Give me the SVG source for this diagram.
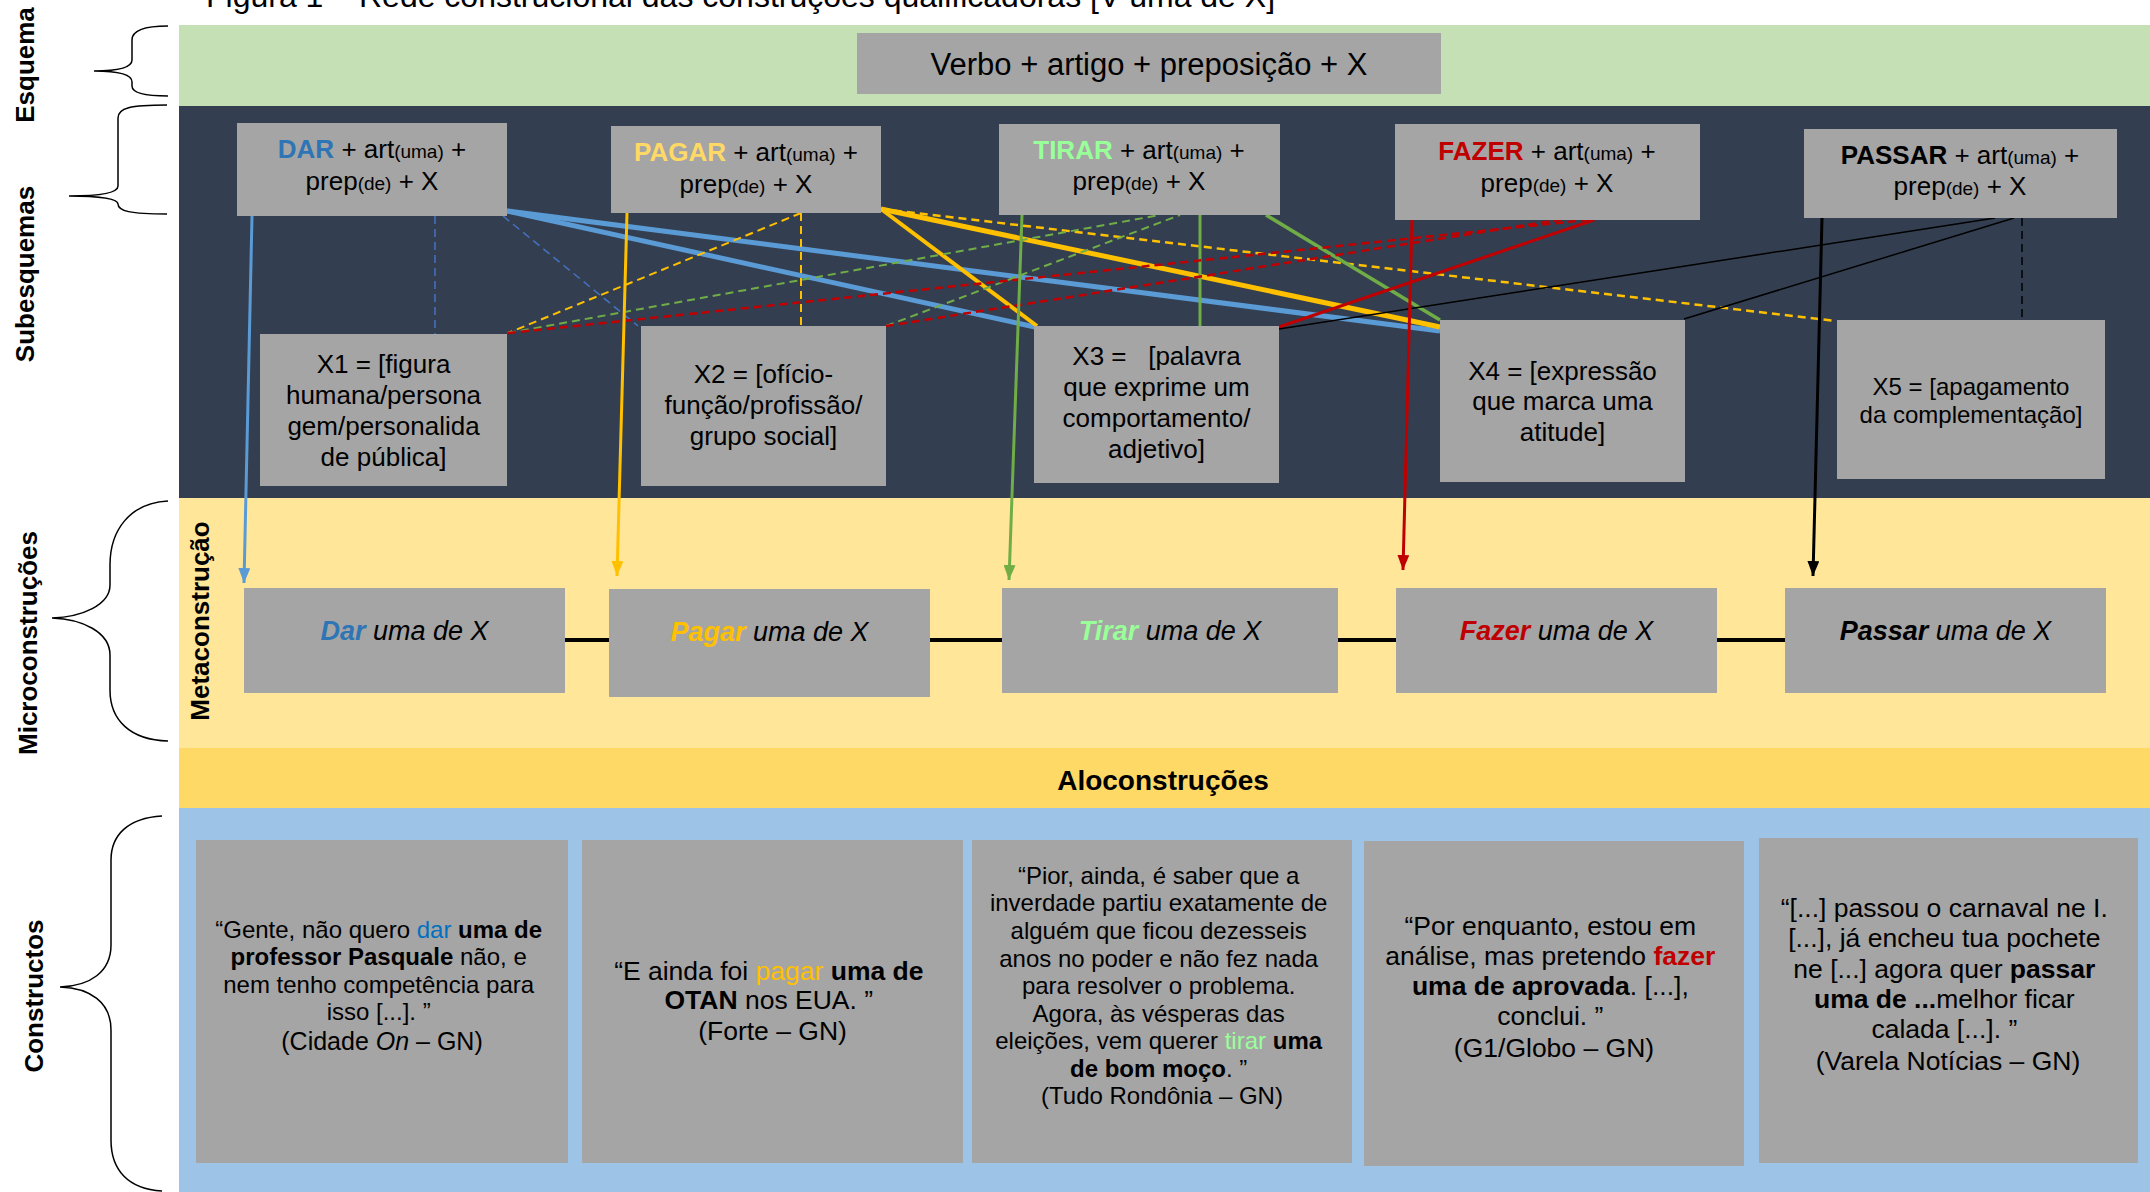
<svg xmlns="http://www.w3.org/2000/svg" width="2150" height="1192" viewBox="0 0 2150 1192">
<defs>
<style>
text { font-family: "Liberation Sans", Arial, sans-serif; fill: #000; }
.box { fill: #A5A5A5; }
.lbl { font-size: 26px; font-weight: bold; }
.sub { font-size: 26px; }
.sm { font-size: 19px; }
.xt { font-size: 26px; }
.mc { font-size: 27px; font-style: italic; }
.ct { font-size: 24px; }
.ct2 { font-size: 26.5px; }
.b { font-weight: bold; }
.brace { fill: none; stroke: #000; stroke-width: 1.5; }
.c { fill: none; }
.dash { stroke-dasharray: 8 5; }
</style>
<marker id="aBlue" markerUnits="userSpaceOnUse" markerWidth="15" markerHeight="12" refX="15" refY="6" orient="auto"><path d="M0,0 L15,6 L0,12 z" fill="#5B9BD5"/></marker>
<marker id="aYel" markerUnits="userSpaceOnUse" markerWidth="15" markerHeight="12" refX="15" refY="6" orient="auto"><path d="M0,0 L15,6 L0,12 z" fill="#FFC000"/></marker>
<marker id="aGrn" markerUnits="userSpaceOnUse" markerWidth="15" markerHeight="12" refX="15" refY="6" orient="auto"><path d="M0,0 L15,6 L0,12 z" fill="#70AD47"/></marker>
<marker id="aRed" markerUnits="userSpaceOnUse" markerWidth="15" markerHeight="12" refX="15" refY="6" orient="auto"><path d="M0,0 L15,6 L0,12 z" fill="#C00000"/></marker>
<marker id="aBlk" markerUnits="userSpaceOnUse" markerWidth="15" markerHeight="12" refX="15" refY="6" orient="auto"><path d="M0,0 L15,6 L0,12 z" fill="#000"/></marker>
</defs>

<rect x="0" y="0" width="2150" height="1192" fill="#fff"/>

<!-- title (cut off at top, as in the reference) -->
<text x="206" y="7" font-size="32">Figura 1 – Rede construcional das construções qualificadoras [V uma de X]</text>

<!-- bands -->
<g id="bands">
<rect x="179" y="25" width="1971" height="81" fill="#C5E0B4"/>
<rect x="179" y="106" width="1971" height="392" fill="#333F50"/>
<rect x="179" y="498" width="1971" height="250" fill="#FFE699"/>
<rect x="179" y="748" width="1971" height="60" fill="#FFD966"/>
<rect x="179" y="808" width="1971" height="384" fill="#9DC3E6"/>
</g>

<!-- left labels and braces -->
<g id="labels">
<text class="lbl" transform="translate(34,65) rotate(-90)" text-anchor="middle">Esquema</text>
<text class="lbl" transform="translate(34,274) rotate(-90)" text-anchor="middle">Subesquemas</text>
<text class="lbl" transform="translate(37,643) rotate(-90)" text-anchor="middle">Microconstruções</text>
<text class="lbl" transform="translate(43,996) rotate(-90)" text-anchor="middle">Constructos</text>
<text class="lbl" transform="translate(209,621) rotate(-90)" text-anchor="middle">Metaconstrução</text>
<path class="brace" d="M168,26 C145,26 132,30 132,40 L132,60 C132,68 115,71 94,71 C115,71 132,74 132,82 L132,86 C132,93 145,96 168,96"/>
<path class="brace" d="M167,105 C130,105 118,108 118,118 L118,186 C118,193 100,196 69,196 C100,196 118,199 118,204 C118,211 130,214 167,214"/>
<path class="brace" d="M168,501 C130,503 110,530 110,565 L110,585 C110,605 82,617 52,618 C82,619 110,632 110,655 L110,690 C110,720 130,740 168,741"/>
<path class="brace" d="M162,816 C128,818 111,835 111,860 L111,945 C111,972 90,986 60,987 C90,988 111,1002 111,1030 L111,1140 C111,1170 128,1189 162,1191"/>
</g>

<!-- connectors -->
<g id="connectors">
<!-- DAR -->
<line class="c dash" x1="435" y1="216" x2="435" y2="334" stroke="#4472C4" stroke-width="1.5"/>
<line class="c dash" x1="503" y1="216" x2="638" y2="326" stroke="#4472C4" stroke-width="1.5"/>
<line class="c" x1="507" y1="211" x2="1035" y2="327" stroke="#5B9BD5" stroke-width="5"/>
<line class="c" x1="507" y1="211" x2="1440" y2="331" stroke="#5B9BD5" stroke-width="5"/>
<!-- PAGAR -->
<line class="c dash" x1="801" y1="213" x2="508" y2="333" stroke="#FFC000" stroke-width="2"/>
<line class="c dash" x1="801" y1="213" x2="801" y2="326" stroke="#FFC000" stroke-width="2"/>
<line class="c dash" x1="881" y1="209" x2="1836" y2="321" stroke="#FFC000" stroke-width="2.5"/>
<line class="c" x1="881" y1="209" x2="1037" y2="326" stroke="#FFC000" stroke-width="4"/>
<line class="c" x1="881" y1="209" x2="1440" y2="327" stroke="#FFC000" stroke-width="5"/>
<!-- TIRAR -->
<line class="c dash" x1="508" y1="333" x2="1160" y2="215" stroke="#70AD47" stroke-width="2"/>
<line class="c dash" x1="886" y1="326" x2="1180" y2="215" stroke="#70AD47" stroke-width="2"/>
<line class="c" x1="1200" y1="215" x2="1200" y2="326" stroke="#70AD47" stroke-width="3"/>
<line class="c" x1="1266" y1="215" x2="1440" y2="320" stroke="#70AD47" stroke-width="3.5"/>
<!-- FAZER -->
<line class="c dash" x1="508" y1="333" x2="1596" y2="219" stroke="#C00000" stroke-width="2.5"/>
<line class="c dash" x1="886" y1="326" x2="1565" y2="219" stroke="#C00000" stroke-width="2.5"/>
<line class="c" x1="1594" y1="220" x2="1279" y2="327" stroke="#C00000" stroke-width="3"/>
<!-- PASSAR -->
<line class="c" x1="1995" y1="218" x2="1279" y2="329" stroke="#000" stroke-width="1.5"/>
<line class="c" x1="2014" y1="218" x2="1684" y2="319" stroke="#000" stroke-width="1.5"/>
<line class="c dash" x1="2022" y1="218" x2="2022" y2="320" stroke="#000" stroke-width="1.5"/>
<!-- arrows to microconstructions -->
<line class="c" x1="252" y1="216" x2="244" y2="583" stroke="#5B9BD5" stroke-width="3" marker-end="url(#aBlue)"/>
<line class="c" x1="627" y1="213" x2="617" y2="576" stroke="#FFC000" stroke-width="3" marker-end="url(#aYel)"/>
<line class="c" x1="1022" y1="215" x2="1009" y2="580" stroke="#70AD47" stroke-width="3" marker-end="url(#aGrn)"/>
<line class="c" x1="1412" y1="220" x2="1403" y2="570" stroke="#C00000" stroke-width="3" marker-end="url(#aRed)"/>
<line class="c" x1="1822" y1="218" x2="1813" y2="576" stroke="#000" stroke-width="3" marker-end="url(#aBlk)"/>
<!-- links between microconstructions -->
<line x1="565" y1="640" x2="609" y2="640" stroke="#000" stroke-width="4"/>
<line x1="930" y1="640" x2="1002" y2="640" stroke="#000" stroke-width="4"/>
<line x1="1338" y1="640" x2="1396" y2="640" stroke="#000" stroke-width="4"/>
<line x1="1717" y1="640" x2="1785" y2="640" stroke="#000" stroke-width="4"/>
</g>

<!-- schema -->
<g id="esquema">
<rect class="box" x="857" y="33" width="584" height="61"/>
<text x="1149" y="75" font-size="31" text-anchor="middle">Verbo + artigo + preposição + X</text>
</g>

<!-- subschemas -->
<g id="sub-dar">
<rect class="box" x="237" y="123" width="270" height="93"/>
<text class="sub" x="372" y="158" text-anchor="middle"><tspan class="b" fill="#2E75B6">DAR</tspan> + art<tspan class="sm">(uma)</tspan> +</text>
<text class="sub" x="372" y="190" text-anchor="middle">prep<tspan class="sm">(de)</tspan> + X</text>
</g>
<g id="sub-pagar">
<rect class="box" x="611" y="126" width="270" height="87"/>
<text class="sub" x="746" y="161" text-anchor="middle"><tspan class="b" fill="#FFD966">PAGAR</tspan> + art<tspan class="sm">(uma)</tspan> +</text>
<text class="sub" x="746" y="193" text-anchor="middle">prep<tspan class="sm">(de)</tspan> + X</text>
</g>
<g id="sub-tirar">
<rect class="box" x="999" y="124" width="281" height="91"/>
<text class="sub" x="1139" y="159" text-anchor="middle"><tspan class="b" fill="#99FF99">TIRAR</tspan> + art<tspan class="sm">(uma)</tspan> +</text>
<text class="sub" x="1139" y="190" text-anchor="middle">prep<tspan class="sm">(de)</tspan> + X</text>
</g>
<g id="sub-fazer">
<rect class="box" x="1395" y="124" width="305" height="96"/>
<text class="sub" x="1547" y="160" text-anchor="middle"><tspan class="b" fill="#C00000">FAZER</tspan> + art<tspan class="sm">(uma)</tspan> +</text>
<text class="sub" x="1547" y="192" text-anchor="middle">prep<tspan class="sm">(de)</tspan> + X</text>
</g>
<g id="sub-passar">
<rect class="box" x="1804" y="129" width="313" height="89"/>
<text class="sub" x="1960" y="164" text-anchor="middle"><tspan class="b">PASSAR</tspan> + art<tspan class="sm">(uma)</tspan> +</text>
<text class="sub" x="1960" y="195" text-anchor="middle">prep<tspan class="sm">(de)</tspan> + X</text>
</g>

<!-- slot values -->
<g id="x1">
<rect class="box" x="260" y="334" width="247" height="152"/>
<text class="xt" text-anchor="middle"><tspan x="383.5" y="373">X1 = [figura</tspan><tspan x="383.5" y="404">humana/persona</tspan><tspan x="383.5" y="435">gem/personalida</tspan><tspan x="383.5" y="466">de pública]</tspan></text>
</g>
<g id="x2">
<rect class="box" x="641" y="326" width="245" height="160"/>
<text class="xt" text-anchor="middle"><tspan x="763.5" y="383">X2 = [ofício-</tspan><tspan x="763.5" y="414">função/profissão/</tspan><tspan x="763.5" y="445">grupo social]</tspan></text>
</g>
<g id="x3">
<rect class="box" x="1034" y="326" width="245" height="157"/>
<text class="xt" text-anchor="middle" xml:space="preserve"><tspan x="1156.5" y="365">X3 =   [palavra</tspan><tspan x="1156.5" y="396">que exprime um</tspan><tspan x="1156.5" y="427">comportamento/</tspan><tspan x="1156.5" y="458">adjetivo]</tspan></text>
</g>
<g id="x4">
<rect class="box" x="1440" y="320" width="245" height="162"/>
<text class="xt" text-anchor="middle"><tspan x="1562.5" y="380">X4 = [expressão</tspan><tspan x="1562.5" y="410">que marca uma</tspan><tspan x="1562.5" y="441">atitude]</tspan></text>
</g>
<g id="x5">
<rect class="box" x="1837" y="320" width="268" height="159"/>
<text font-size="24" text-anchor="middle"><tspan x="1971" y="395">X5 = [apagamento</tspan><tspan x="1971" y="423">da complementação]</tspan></text>
</g>

<!-- microconstructions -->
<g id="m-dar">
<rect class="box" x="244" y="588" width="321" height="105"/>
<text class="mc" x="404.5" y="640" text-anchor="middle"><tspan class="b" fill="#2E75B6">Dar</tspan> uma de X</text>
</g>
<g id="m-pagar">
<rect class="box" x="609" y="589" width="321" height="108"/>
<text class="mc" x="769.5" y="641" text-anchor="middle"><tspan class="b" fill="#FFC000">Pagar</tspan> uma de X</text>
</g>
<g id="m-tirar">
<rect class="box" x="1002" y="588" width="336" height="105"/>
<text class="mc" x="1170" y="640" text-anchor="middle"><tspan class="b" fill="#99FF99">Tirar</tspan> uma de X</text>
</g>
<g id="m-fazer">
<rect class="box" x="1396" y="588" width="321" height="105"/>
<text class="mc" x="1556.5" y="640" text-anchor="middle"><tspan class="b" fill="#C00000">Fazer</tspan> uma de X</text>
</g>
<g id="m-passar">
<rect class="box" x="1785" y="588" width="321" height="105"/>
<text class="mc" x="1945.5" y="640" text-anchor="middle"><tspan class="b">Passar</tspan> uma de X</text>
</g>

<g id="aloconstrucoes">
<text x="1163" y="790" font-size="28" font-weight="bold" text-anchor="middle">Aloconstruções</text>
</g>

<!-- constructs -->
<g id="c1">
<rect class="box" x="196" y="840" width="372" height="323"/>
<text class="ct" text-anchor="middle">
<tspan x="382" y="938">“Gente, não quero <tspan fill="#0070C0">dar</tspan> <tspan class="b">uma de</tspan></tspan>
<tspan x="382" y="965"><tspan class="b">professor Pasquale</tspan> não, e</tspan>
<tspan x="382" y="993">nem tenho competência para</tspan>
<tspan x="382" y="1020">isso [...]. ”</tspan>
<tspan x="382" y="1050" font-size="25">(Cidade <tspan font-style="italic">On</tspan> – GN)</tspan>
</text>
</g>
<g id="c2">
<rect class="box" x="582" y="840" width="381" height="323"/>
<text class="ct2" text-anchor="middle">
<tspan x="772.5" y="980">“E ainda foi <tspan fill="#FFC000">pagar</tspan> <tspan class="b">uma de</tspan></tspan>
<tspan x="772.5" y="1009"><tspan class="b">OTAN</tspan> nos EUA. ”</tspan>
<tspan x="772.5" y="1040">(Forte – GN)</tspan>
</text>
</g>
<g id="c3">
<rect class="box" x="972" y="840" width="380" height="323"/>
<text class="ct" text-anchor="middle">
<tspan x="1162" y="884">“Pior, ainda, é saber que a</tspan>
<tspan x="1162" y="911">inverdade partiu exatamente de</tspan>
<tspan x="1162" y="939">alguém que ficou dezesseis</tspan>
<tspan x="1162" y="967">anos no poder e não fez nada</tspan>
<tspan x="1162" y="994">para resolver o problema.</tspan>
<tspan x="1162" y="1022">Agora, às vésperas das</tspan>
<tspan x="1162" y="1049">eleições, vem querer <tspan fill="#99FF99">tirar</tspan> <tspan class="b">uma</tspan></tspan>
<tspan x="1162" y="1077"><tspan class="b">de bom moço</tspan>. ”</tspan>
<tspan x="1162" y="1104">(Tudo Rondônia – GN)</tspan>
</text>
</g>
<g id="c4">
<rect class="box" x="1364" y="841" width="380" height="325"/>
<text class="ct2" text-anchor="middle">
<tspan x="1554" y="935">“Por enquanto, estou em</tspan>
<tspan x="1554" y="965">análise, mas pretendo <tspan class="b" fill="#C00000">fazer</tspan></tspan>
<tspan x="1554" y="995"><tspan class="b">uma de aprovada</tspan>. [...],</tspan>
<tspan x="1554" y="1025">conclui. ”</tspan>
<tspan x="1554" y="1057">(G1/Globo – GN)</tspan>
</text>
</g>
<g id="c5">
<rect class="box" x="1759" y="838" width="379" height="325"/>
<text class="ct2" font-size="26" text-anchor="middle">
<tspan x="1948" y="917">“[...] passou o carnaval ne I.</tspan>
<tspan x="1948" y="947">[...], já encheu tua pochete</tspan>
<tspan x="1948" y="978">ne [...] agora quer <tspan class="b">passar</tspan></tspan>
<tspan x="1948" y="1008"><tspan class="b">uma de ...</tspan>melhor ficar</tspan>
<tspan x="1948" y="1038">calada [...]. ”</tspan>
<tspan x="1948" y="1070">(Varela Notícias – GN)</tspan>
</text>
</g>
</svg>
